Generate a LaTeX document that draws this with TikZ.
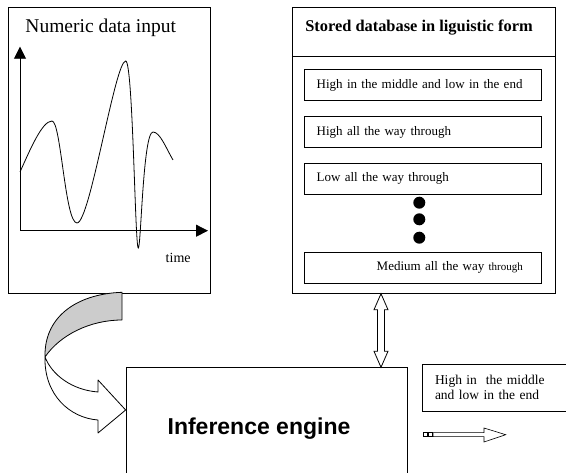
\documentclass[tikz,border=0pt]{standalone}
\usepackage{fontspec}
\setmainfont{Liberation Serif}
\newfontfamily\arialfont{Liberation Sans}
\usetikzlibrary{positioning}
\usetikzlibrary{calc}
\usetikzlibrary{arrows.meta}
\tikzset{x=1pt, y=-1pt,
panel/.style={
draw,
inner sep=0pt},
entry/.style={
draw,
minimum width=237pt,
minimum height=31pt,
inner xsep=12.7pt,
text width=211.6pt,
align=left,
font=\fontsize{13}{15}\selectfont},
dot/.style={
circle,
fill,
inner sep=0pt,
minimum size=12pt},
axis/.style={
-{Triangle[length=12pt,width=12pt]}},
hollow/.style={
draw,
fill=white,
line join=miter}}

\begin{document}
\begin{tikzpicture}[line width=0.8pt]
\useasboundingbox (0,0) rectangle (566,473);
\node[panel, minimum width=201.7pt, minimum height=286pt] (numbox) at (109.2,150.3) {};
\node[anchor=base west, font=\fontsize{19.5}{22}\selectfont] (numtitle) at (21.7,33) {Numeric data input};
\draw[axis] (20,230.7) -- (20,46.7);
\draw[axis] (20,230.7) -- (208,230.7);
\draw (20,172) .. controls (30,150) and (42,121) .. (52,121)
 .. controls (61,121) and (65,223) .. (77,223)
 .. controls (90,223) and (115,61) .. (125.7,61)
 .. controls (133,61) and (135,248) .. (138.3,248)
 .. controls (141,248) and (143,132) .. (153,132)
 .. controls (160,132) and (166,148) .. (173,160);
\node[anchor=base west, font=\fontsize{14}{16}\selectfont] (time) at (162,263) {time};

\node[panel, minimum width=262.7pt, minimum height=286pt] (db) at (423.7,150.3) {};
\draw (db.west |- 0,56.7) -- (db.east |- 0,56.7);
\node[anchor=base, font=\fontsize{16.4}{19}\selectfont\bfseries] (dbtitle) at (419,31.7) {Stored database in liguistic form};
\node[entry] (e1) at (422.5,85.2) {High in the middle and low in the end};
\node[entry] (e2) at (422.5,132) {High all the way through};
\node[entry] (e3) at (422.5,178.7) {Low all the way through};
\node[dot] (d1) at (419.3,202.7) {};
\node[dot] (d2) at (419.3,219.3) {};
\node[dot] (d3) at (419.3,237.7) {};
\node[entry] (e4) at (422.5,267.8) {\hspace*{60pt}Medium all the way {\fontsize{11}{13}\selectfont through}};

\node[panel, minimum width=281.7pt, minimum height=112.3pt] (ie) at (266.9,423.85) {};
\node[anchor=base, font=\fontsize{23}{26}\selectfont\arialfont\bfseries] (ietext) at (259,435) {Inference engine};

\node[draw, minimum width=144.3pt, minimum height=47pt, inner xsep=12.3pt, text width=119.7pt, align=left,
 font=\fontsize{13.5}{15}\selectfont] (res) at (494.85,387.5) {High in~ the middle\\and low in the end};

\coordinate (up) at (db.south -| 381,0);
\coordinate (dn) at (ie.north -| 381,0);
\draw[hollow] (up) -- ++(7,16) -- ++(-3.5,0) -- ($(dn)+(3.5,-16)$) -- ++(3.5,0) -- (dn)
 -- ++(-7,-16) -- ++(3.5,0) -- ($(up)+(-3.5,16)$) -- ++(-3.5,0) -- cycle;

\draw[fill=gray!40, line join=round] (122,292.3) .. controls (75,294) and (44,318) .. (45,357)
 .. controls (60,335) and (90,320) .. (122,320) -- cycle;
\draw[hollow, line join=round] (45,357) .. controls (44,395) and (70,418) .. (98,420) -- (98,433)
 -- (ie.west |- 0,410) -- (98,380) -- (98,392) .. controls (72,390) and (52,375) .. (45,357);

\coordinate (out) at (423,434.7);
\draw[line width=0.6pt] (out) ++(0,-2) rectangle ++(4.3,4);
\draw[line width=0.6pt] (428.3,432.7) rectangle ++(4.3,4);
\draw[hollow, line width=0.6pt] (433,432.7) -- (484,432.7) -- (484,428) -- (505.7,434.7) -- (484,442)
 -- (484,436.7) -- (433,436.7) -- cycle;
\end{tikzpicture}
\end{document}
